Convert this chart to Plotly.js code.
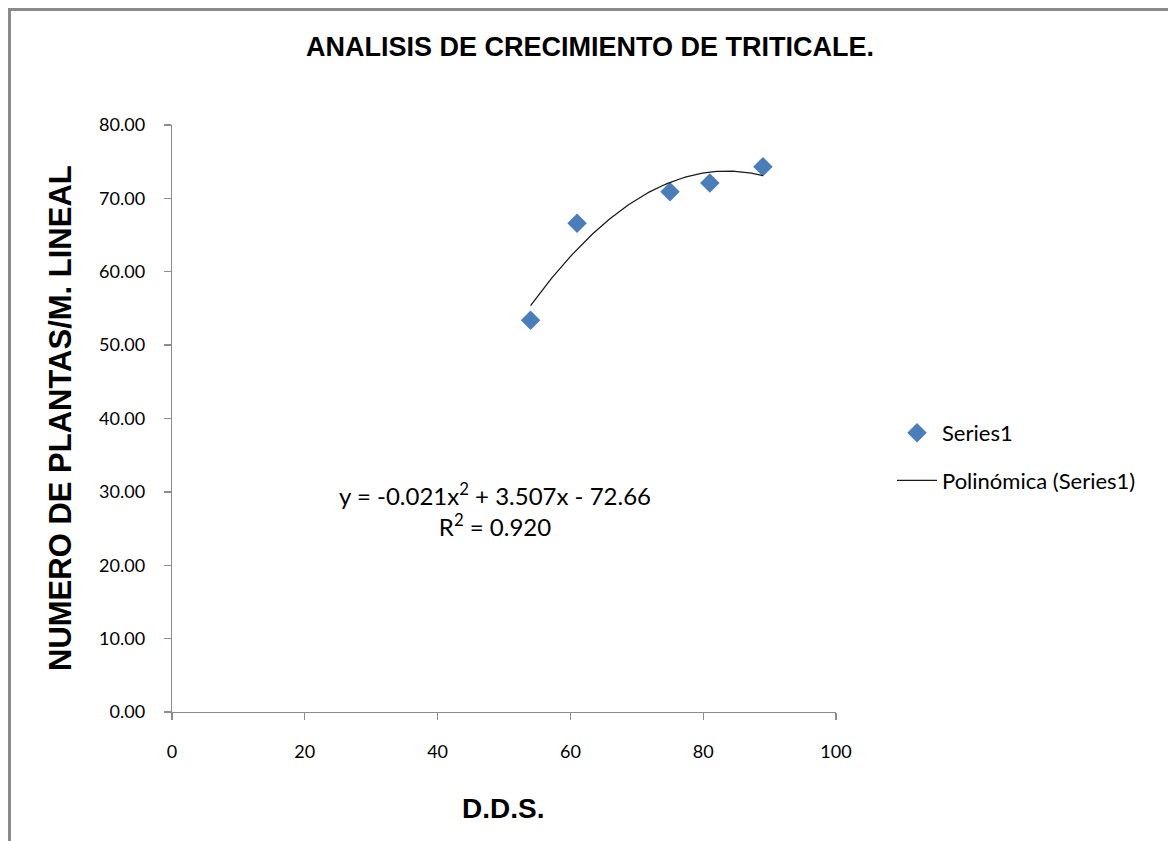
<!DOCTYPE html>
<html>
<head>
<meta charset="utf-8">
<script src="https://cdn.plot.ly/plotly-3.0.1.min.js"></script>
<style>
html,body{margin:0;padding:0;background:#fff;overflow:hidden;}
#wrap{position:relative;width:1168px;height:841px;overflow:hidden;}
#chart{position:absolute;left:0;top:0;width:1168px;height:841px;}
#frame{position:absolute;left:8px;top:8px;width:1300px;height:1000px;border-top:3px solid #8a8a8a;border-left:3px solid #8a8a8a;pointer-events:none;}
</style>
</head>
<body>
<div id="wrap"><div id="chart"></div><div id="frame"></div></div>
<script>
// Data
const dds = [54, 61, 75, 81, 89];
const plantas = [53.4, 66.6, 70.9, 72.1, 74.3];
const xTicks = [0, 20, 40, 60, 80, 100];
const yTicks = [0, 10, 20, 30, 40, 50, 60, 70, 80];
const seriesName = "Series1";
const trendName = "Polinómica (Series1)";
const eqText = "y = -0.021x<sup>2</sup> + 3.507x - 72.66<br>R<sup>2</sup> = 0.920";

// Least-squares quadratic fit of the data (the Excel trendline)
function polyfit2(xs, ys) {
  let S = [0,0,0,0,0], T = [0,0,0];
  for (let i = 0; i < xs.length; i++) {
    let p = 1;
    for (let k = 0; k < 5; k++) { S[k] += p; if (k < 3) T[k] += p * ys[i]; p *= xs[i]; }
  }
  const A = [[S[0],S[1],S[2],T[0]],[S[1],S[2],S[3],T[1]],[S[2],S[3],S[4],T[2]]];
  for (let i = 0; i < 3; i++) {
    for (let j = i+1; j < 3; j++) {
      const f = A[j][i]/A[i][i];
      for (let k = i; k < 4; k++) A[j][k] -= f*A[i][k];
    }
  }
  const c = [0,0,0];
  for (let i = 2; i >= 0; i--) {
    let s = A[i][3];
    for (let k = i+1; k < 3; k++) s -= A[i][k]*c[k];
    c[i] = s/A[i][i];
  }
  return c;
}
const coef = polyfit2(dds, plantas);
const xMin = Math.min(...dds), xMax = Math.max(...dds);
const tx = [], ty = [];
for (let i = 0; i <= 100; i++) {
  const x = xMin + (xMax - xMin) * i / 100;
  tx.push(x); ty.push(coef[0] + coef[1]*x + coef[2]*x*x);
}

const tickFont = {family: "Lato, 'Open Sans', sans-serif", size: 18, color: "#000"};
const boldFamily = "'Liberation Sans', Arial, sans-serif";

const data = [
  {x: dds, y: plantas, type: "scatter", mode: "markers", name: seriesName, legendgroup: "a",
   marker: {symbol: "diamond", size: 15, color: "#4a7ebb"}},
  {x: tx, y: ty, type: "scatter", mode: "lines", name: trendName, legendgroup: "b",
   line: {color: "#1a1a1a", width: 1.3}}
];

const layout = {
  width: 1168, height: 841,
  margin: {l: 172, r: 332, t: 125, b: 129},
  paper_bgcolor: "#fff", plot_bgcolor: "#fff",
  showlegend: true,
  title: {text: "ANALISIS DE CRECIMIENTO DE TRITICALE.", font: {family: boldFamily, size: 27, color: "#000", weight: 700},
          xref: "container", x: 590/1168, xanchor: "center", yref: "container", y: 1 - 47/841, yanchor: "middle"},
  xaxis: {range: [0, 100], tickvals: xTicks, ticktext: xTicks.map(String), showgrid: false, zeroline: false,
          showline: true, linecolor: "#8c8c8c", linewidth: 1.3, ticks: "outside", ticklen: 7, tickcolor: "#8c8c8c", tickwidth: 1.3,
          tickfont: tickFont, ticklabelstandoff: 16},
  yaxis: {range: [0, 80], tickvals: yTicks, ticktext: yTicks.map(v => v.toFixed(2)), showgrid: false, zeroline: false,
          showline: true, linecolor: "#8c8c8c", linewidth: 1.3, ticks: "outside", ticklen: 7, tickcolor: "#8c8c8c", tickwidth: 1.3,
          tickfont: tickFont, ticklabelstandoff: 15},
  legend: {x: (892-172)/664, y: 1 - (412-125)/587, xanchor: "left", yanchor: "top",
           font: {family: "Lato, 'Open Sans', sans-serif", size: 22, color: "#000"},
           traceorder: "grouped", tracegroupgap: 16, itemwidth: 40, bgcolor: "rgba(0,0,0,0)"},
  annotations: [
    {text: "NUMERO DE PLANTAS/M. LINEAL", xref: "paper", yref: "paper", x: (60-172)/664, y: (712-418)/587,
     xanchor: "center", yanchor: "middle", textangle: -90, showarrow: false,
     font: {family: boldFamily, size: 31, color: "#000", weight: 700}},
    {text: "D.D.S.", xref: "paper", yref: "paper", x: (503-172)/664, y: -(808-712)/587,
     xanchor: "center", yanchor: "middle", showarrow: false,
     font: {family: boldFamily, size: 28, color: "#000", weight: 700}},
    {text: eqText, xref: "paper", yref: "paper", x: (495-172)/664, y: (712-509)/587,
     xanchor: "center", yanchor: "middle", align: "center", showarrow: false,
     font: {family: "Lato, 'Open Sans', sans-serif", size: 24, color: "#000"}}
  ]
};

Plotly.newPlot("chart", data, layout, {displayModeBar: false, staticPlot: true});
</script>
</body>
</html>
